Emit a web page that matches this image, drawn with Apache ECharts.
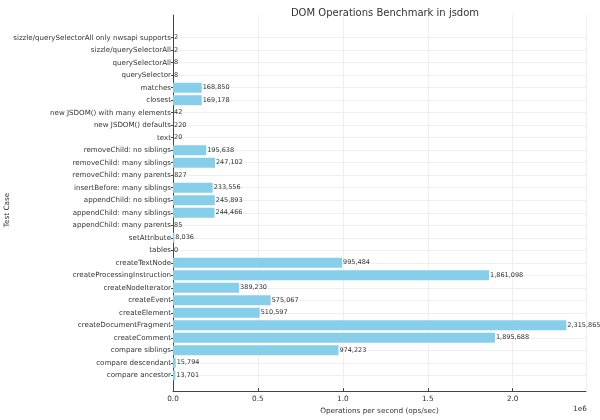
<!DOCTYPE html>
<html>
<head>
<meta charset="utf-8">
<script src="https://cdn.jsdelivr.net/npm/echarts@6/dist/echarts.min.js"></script>
<style>
html,body{margin:0;padding:0;background:#fff;}
#chart{width:600px;height:420px;}
</style>
</head>
<body>
<div id="chart"></div>
<script>
// test cases, top to bottom
var testCases = [
	'sizzle/querySelectorAll only nwsapi supports',
	'sizzle/querySelectorAll',
	'querySelectorAll',
	'querySelector',
	'matches',
	'closest',
	'new JSDOM() with many elements',
	'new JSDOM() defaults',
	'text',
	'removeChild: no siblings',
	'removeChild: many siblings',
	'removeChild: many parents',
	'insertBefore: many siblings',
	'appendChild: no siblings',
	'appendChild: many siblings',
	'appendChild: many parents',
	'setAttribute',
	'tables',
	'createTextNode',
	'createProcessingInstruction',
	'createNodeIterator',
	'createEvent',
	'createElement',
	'createDocumentFragment',
	'createComment',
	'compare siblings',
	'compare descendant',
	'compare ancestor'
];
// ops/sec
var opsPerSec = [
	2, 2, 8, 8, 168850, 169178, 42, 220, 20,
	195638, 247102, 827, 233556, 245893, 244466, 85,
	8036, 0, 995484, 1861098, 389230, 575067, 510597,
	2315865, 1895688, 974223, 15794, 13701
];

var xMax = 2431658;
var textColor = '#333';
var fnt = 'DejaVu Sans';

var myChart = echarts.init(document.getElementById('chart'));
var option = {
	textStyle: { fontFamily: fnt },
	animation: false,
	title: {
		text: 'DOM Operations Benchmark in jsdom',
		left: 380,
		top: 3,
		textAlign: 'center',
		textStyle: { fontFamily: fnt, fontSize: 10, fontWeight: 'normal', color: textColor }
	},
	grid: [
		// frame: axes and vertical grid lines
		{ left: 173, right: 14, top: 15, bottom: 23 },
		// bars
		{ left: 173, right: 14, top: 37.7, bottom: 44.7 }
	],
	xAxis: [
		{
			gridIndex: 0,
			type: 'value',
			min: 0,
			max: xMax,
			interval: 0.5e6,
			name: 'Operations per second (ops/sec)',
			nameLocation: 'middle',
			nameGap: 16,
			nameTextStyle: { fontFamily: fnt, fontSize: 7.3, color: textColor },
			axisLine: { show: true, lineStyle: { color: '#444', width: 1 } },
			axisTick: { show: true, inside: true, length: 3, lineStyle: { color: '#444' } },
			axisLabel: {
				fontFamily: fnt, fontSize: 7.3, color: textColor, margin: 5,
				showMaxLabel: false,
				formatter: function (v) { return (v / 1e6).toFixed(1); }
			},
			splitLine: { show: true, lineStyle: { color: '#ebebeb', width: 0.8 } }
		},
		{
			gridIndex: 1,
			type: 'value',
			min: 0,
			max: xMax,
			show: false
		}
	],
	yAxis: [
		{
			gridIndex: 0,
			type: 'value',
			min: 0,
			max: 1,
			axisLine: { show: true, lineStyle: { color: '#444', width: 1 } },
			axisTick: { show: false },
			axisLabel: { show: false },
			splitLine: { show: false }
		},
		{
			gridIndex: 1,
			type: 'category',
			inverse: true,
			boundaryGap: false,
			data: testCases,
			axisLine: { show: false },
			axisTick: { show: true, length: 2, lineStyle: { color: '#444' } },
			axisLabel: { fontFamily: fnt, fontSize: 7.1, color: textColor, margin: 2, interval: 0 },
			splitLine: { show: true, interval: 0, lineStyle: { color: '#ebebeb', width: 0.8 } }
		}
	],
	graphic: [
		{
			type: 'text',
			left: 573, top: 406,
			style: { text: '1e6', font: '7.3px "DejaVu Sans"', fill: textColor }
		},
		{
			type: 'text',
			x: 4, y: 210,
			rotation: Math.PI / 2,
			style: { text: 'Test Case', font: '7.3px "DejaVu Sans"', fill: textColor, align: 'center', verticalAlign: 'top' }
		}
	],
	series: [
		{
			type: 'bar',
			xAxisIndex: 1,
			yAxisIndex: 1,
			data: opsPerSec,
			barWidth: 10,
			itemStyle: { color: '#87CEEB' },
			label: {
				show: true,
				position: 'right',
				distance: 1,
				fontFamily: fnt,
				fontSize: 6.5,
				color: textColor,
				formatter: function (p) { return p.value.toLocaleString('en-US'); }
			}
		}
	]
};
myChart.setOption(option);
</script>
</body>
</html>
